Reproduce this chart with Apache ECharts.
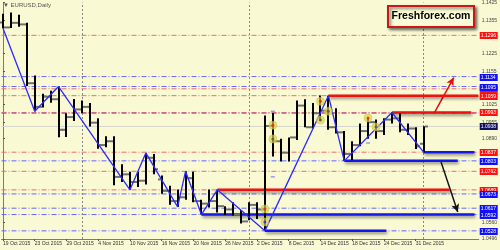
<!DOCTYPE html>
<html><head><meta charset="utf-8">
<script src="https://cdn.jsdelivr.net/npm/echarts@6/dist/echarts.min.js"></script>
<style>html,body{margin:0;padding:0;background:#f9f9d4}#c{width:500px;height:250px}</style>
</head><body><div id="c"></div>
<script>
const dates = ['19 Oct 2015','20 Oct 2015','21 Oct 2015','22 Oct 2015','23 Oct 2015','26 Oct 2015','27 Oct 2015','28 Oct 2015','29 Oct 2015','30 Oct 2015',
'2 Nov 2015','3 Nov 2015','4 Nov 2015','5 Nov 2015','6 Nov 2015','9 Nov 2015','10 Nov 2015','11 Nov 2015','12 Nov 2015','13 Nov 2015',
'16 Nov 2015','17 Nov 2015','18 Nov 2015','19 Nov 2015','20 Nov 2015','23 Nov 2015','24 Nov 2015','25 Nov 2015','26 Nov 2015','27 Nov 2015',
'30 Nov 2015','1 Dec 2015','2 Dec 2015','3 Dec 2015','4 Dec 2015','7 Dec 2015','8 Dec 2015','9 Dec 2015','10 Dec 2015','11 Dec 2015',
'14 Dec 2015','15 Dec 2015','16 Dec 2015','17 Dec 2015','18 Dec 2015','21 Dec 2015','22 Dec 2015','23 Dec 2015','24 Dec 2015','28 Dec 2015',
'29 Dec 2015','30 Dec 2015','31 Dec 2015','4 Jan 2016'];
const opens  = [1.1346,1.1327,1.1345,1.1339,1.1108,1.1015,1.1055,1.1045,1.0925,1.0975, 1.1005,1.1015,1.0953,1.0865,1.0880,1.0740,1.0750,1.0720,1.0725,1.0815, 1.0730,1.0685,1.0645,1.0660,1.0735,1.0645,1.0635,1.0645,1.0625,1.0612, 1.0592,1.0565,1.0630,1.0612,1.0940,1.0880,1.0835,1.0895,1.1020,1.0935, 1.0990,1.1000,1.0935,1.0915,1.0830,1.0865,1.0920,1.0955,1.0920,1.0965, 1.0970,1.0925,1.0930,1.0870];
const highs  = [1.1381,1.1386,1.1377,1.1345,1.1138,1.1067,1.1078,1.1095,1.0990,1.1046, 1.1040,1.1030,1.0970,1.0900,1.0900,1.0790,1.0760,1.0760,1.0834,1.0830, 1.0745,1.0705,1.0690,1.0762,1.0760,1.0650,1.0690,1.0689,1.0625,1.0640, 1.0610,1.0640,1.0640,1.0981,1.0991,1.0890,1.0895,1.1040,1.1045,1.1030, 1.1060,1.1059,1.1010,1.0920,1.0880,1.0950,1.0970,1.0965,1.0970,1.0993, 1.0990,1.0950,1.0935,1.0939];
const lows   = [1.1324,1.1325,1.1330,1.1097,1.0998,1.1013,1.1031,1.0896,1.0897,1.0960, 1.0990,1.0938,1.0851,1.0856,1.0707,1.0720,1.0689,1.0700,1.0710,1.0750, 1.0674,1.0631,1.0622,1.0650,1.0640,1.0592,1.0620,1.0600,1.0590,1.0588, 1.0557,1.0570,1.0575,1.0528,1.0820,1.0800,1.0800,1.0885,1.0935,1.0930, 1.0960,1.0925,1.0910,1.0803,1.0806,1.0860,1.0890,1.0890,1.0905,1.0950, 1.0915,1.0905,1.0850,1.0837];
const closes = [1.1327,1.1345,1.1339,1.1108,1.1015,1.1055,1.1045,1.0925,1.0975,1.1005, 1.1015,1.0953,1.0865,1.0880,1.0740,1.0750,1.0720,1.0725,1.0815,1.0770, 1.0685,1.0645,1.0660,1.0735,1.0645,1.0635,1.0645,1.0625,1.0612,1.0592, 1.0565,1.0630,1.0612,1.0940,1.0880,1.0835,1.0895,1.1020,1.0935,1.0990, 1.1000,1.0935,1.0915,1.0830,1.0865,1.0920,1.0955,1.0920,1.0965,1.0970, 1.0925,1.0930,1.0860,1.0938];

const zigzagBars   = [0,4,7,16,18,22,23,25,27,33,41,43,49,53];
const zigzagPrices = [1.1324,1.0998,1.1095,1.0689,1.0834,1.0622,1.0762,1.0592,1.0689,1.0528,1.1059,1.0803,1.0993,1.0837];

const redLevels  = [1.1296,1.1086,1.1059,1.0993,1.0837,1.0762,1.0689];
const blueLevels = [1.1134,1.1095,1.0803,1.0673,1.0617,1.0592,1.0528];
const blueUntagged = [1.0990];
const bidPrice = 1.0938;
const priceTicks = [1.1425,1.1355,1.1225,1.1155,1.1025,1.0955,1.0890,1.0560,1.0496];
const dateTickBars = [0,4,8,12,16,20,24,28,32,36,40,44,48,52];
const separatorBars = [10,31,53];

const redSegStart = [41,49,27], redSegEnd = [59.9,59,56.3], redSegPrice = [1.1059,1.0993,1.0689];
const blueSegStart = [53,43,25,33], blueSegEnd = [59.4,57.3,59.4,48.3], blueSegPrice = [1.0837,1.0803,1.0592,1.0528];
const redArrow = [[54.4,1.0994],[56.8,1.1130]];
const blackArrow = [[55.2,1.0798],[57.3,1.0602]];
const markRedBars = [34,33,40,46], markRedPrices = [1.0943,1.0614,1.1037,1.0971];
const markDarkBars = [34,40,41,47], markDarkPrices = [1.0889,1.0963,1.0998,1.0936];
const markBlueBars = [33], markBluePrices = [1.0563];
const dashBars = [34,34,46], dashPrices = [1.0998,1.0740,1.0873];

const X_MIN = -0.1875, X_MAX = 59.94;
const Y_MIN = 1.0496, Y_MAX = 1.1425;
const FONT = 'Liberation Sans, Arial, sans-serif';
const ohlc = dates.map((d,i)=>[i,opens[i],highs[i],lows[i],closes[i]]);
const series = [];

function hline(v,color,type){
  return {type:'line',data:[[X_MIN,v],[X_MAX,v]],symbol:'none',silent:true,z:2,
    lineStyle:{color:color,width:1,type:type}};
}
series.push(hline(bidPrice,'#d6d6cc','solid'));
redLevels.forEach(v=>series.push(hline(v,'#f06a6a',[5,2,1,2])));
blueLevels.concat(blueUntagged).forEach(v=>series.push(hline(v,'#6666ff',[5,2,1,2])));
series.push({type:'line',data:[],silent:true,markLine:{symbol:'none',silent:true,animation:false,
  data:separatorBars.map(b=>({xAxis:b,lineStyle:{color:'#888',type:[2,2],width:1},label:{show:false}}))}});

function seg(x1,x2,v,color){
  return {type:'line',data:[[x1,v],[x2,v]],symbol:'none',silent:true,z:5,
    lineStyle:{color:color,width:2.5,shadowBlur:3,shadowColor:'rgba(0,0,0,0.45)',shadowOffsetY:2,shadowOffsetX:1}};
}
redSegStart.forEach((s,k)=>series.push(seg(s,redSegEnd[k],redSegPrice[k],'#ee1111')));
blueSegStart.forEach((s,k)=>series.push(seg(s,blueSegEnd[k],blueSegPrice[k],'#1515ee')));

series.push({type:'custom',z:6,silent:true,data:ohlc,
  renderItem:function(params,api){
    const i=api.value(0),o=api.value(1),h=api.value(2),l=api.value(3),c=api.value(4);
    const pH=api.coord([i,h]),pL=api.coord([i,l]),pO=api.coord([i,o]),pC=api.coord([i,c]);
    const x=Math.round(pH[0]);
    return {type:'group',children:[
      {type:'rect',shape:{x:x-1,y:pH[1],width:2,height:Math.max(1,pL[1]-pH[1])},style:{fill:'#000'}},
      {type:'rect',shape:{x:x-4,y:pO[1]-1,width:3,height:2},style:{fill:'#707070'}},
      {type:'rect',shape:{x:x+1,y:pC[1]-1,width:3,height:2},style:{fill:'#707070'}}
    ]};
  }});

series.push({type:'line',z:7,symbol:'none',silent:true,data:zigzagBars.map((b,k)=>[b,zigzagPrices[k]]),
  lineStyle:{color:'#2b2bff',width:1.3}});

function arrow(pts,color){
  return {type:'line',data:[],silent:true,z:8,markLine:{silent:true,animation:false,symbol:['none','arrow'],symbolSize:[6,8],
    lineStyle:{color:color,width:1.5,type:'solid'},label:{show:false},
    data:[[{coord:pts[0]},{coord:pts[1]}]]}};
}
series.push(arrow(redArrow,'#e01010'));
series.push(arrow(blackArrow,'#111'));

const halo = 'rgba(222,212,70,0.85)';
function marks(bars,prices,dot){
  const d = bars.map((b,k)=>[b,prices[k]]);
  series.push({type:'scatter',z:9,silent:true,symbolSize:8,data:d,itemStyle:{color:halo,borderColor:'rgba(200,190,60,0.6)',borderWidth:1}});
  series.push({type:'scatter',z:10,silent:true,symbolSize:3,data:d,itemStyle:{color:dot}});
}
marks(markRedBars,markRedPrices,'#e02020');
marks(markDarkBars,markDarkPrices,'#555');
marks(markBlueBars,markBluePrices,'#2020ff');
series.push({type:'scatter',z:9,silent:true,symbol:'rect',symbolSize:[4,1],data:dashBars.map((b,k)=>[b,dashPrices[k]]),
  itemStyle:{color:'#4a4aff'}});

const tags = redLevels.map(v=>[v,'#ff1010']).concat(blueLevels.map(v=>[v,'#1010ff'])).concat([[bidPrice,'#10105e']]);
series.push({type:'custom',z:30,silent:true,clip:false,data:tags.map(t=>[X_MAX,t[0]]),
  renderItem:function(params,api){
    const p=api.coord([api.value(0),api.value(1)]);
    const col=tags[params.dataIndex][1];
    return {type:'group',children:[
      {type:'rect',shape:{x:p[0]+1,y:Math.round(p[1])-3,width:18,height:7},style:{fill:col}},
      {type:'text',x:p[0]+2,y:Math.round(p[1])+0.5,style:{text:api.value(1).toFixed(4),fontSize:5,fontFamily:FONT,fill:'#fff',verticalAlign:'middle'}}
    ]};
  }});

const chart = echarts.init(document.getElementById('c'),null,{renderer:'canvas'});
chart.setOption({
  animation:false,
  backgroundColor:'#f9f9d4',
  grid:{left:0,right:19,top:2,bottom:11},
  xAxis:{type:'value',min:X_MIN,max:X_MAX,
    axisLine:{show:true,lineStyle:{color:'#7a7a7a',width:1}},
    axisTick:{show:true,customValues:dateTickBars,length:2,lineStyle:{color:'#555'}},
    splitLine:{show:false},
    axisLabel:{customValues:dateTickBars,formatter:v=>dates[Math.round(v)],fontSize:5,fontFamily:FONT,color:'#333',align:'left',margin:2}},
  yAxis:{type:'value',position:'right',min:Y_MIN,max:Y_MAX,
    axisLine:{show:true,lineStyle:{color:'#7a7a7a',width:1}},
    axisTick:{show:true,customValues:priceTicks,length:2,lineStyle:{color:'#555'}},
    splitLine:{show:false},
    axisLabel:{customValues:priceTicks,formatter:v=>v.toFixed(4),fontSize:5,fontFamily:FONT,color:'#444',margin:3,showMinLabel:true,showMaxLabel:true}},
  graphic:[
    {type:'text',left:3,top:2,style:{text:'▼ EURUSD,Daily',fontSize:6,fontFamily:FONT,fill:'#555'}},
    {type:'rect',shape:{x:388,y:6,width:86,height:21},style:{fill:'#fbfbd8',stroke:'#c81818',lineWidth:2,shadowBlur:3,shadowOffsetX:2,shadowOffsetY:2,shadowColor:'rgba(0,0,0,0.5)'},z:20},
    {type:'text',x:431,y:16.5,style:{text:'Freshforex.com',fontSize:10.5,fontWeight:'bold',fontFamily:FONT,fill:'#000',align:'center',verticalAlign:'middle'},z:21}
  ],
  series:series
});
</script></body></html>
